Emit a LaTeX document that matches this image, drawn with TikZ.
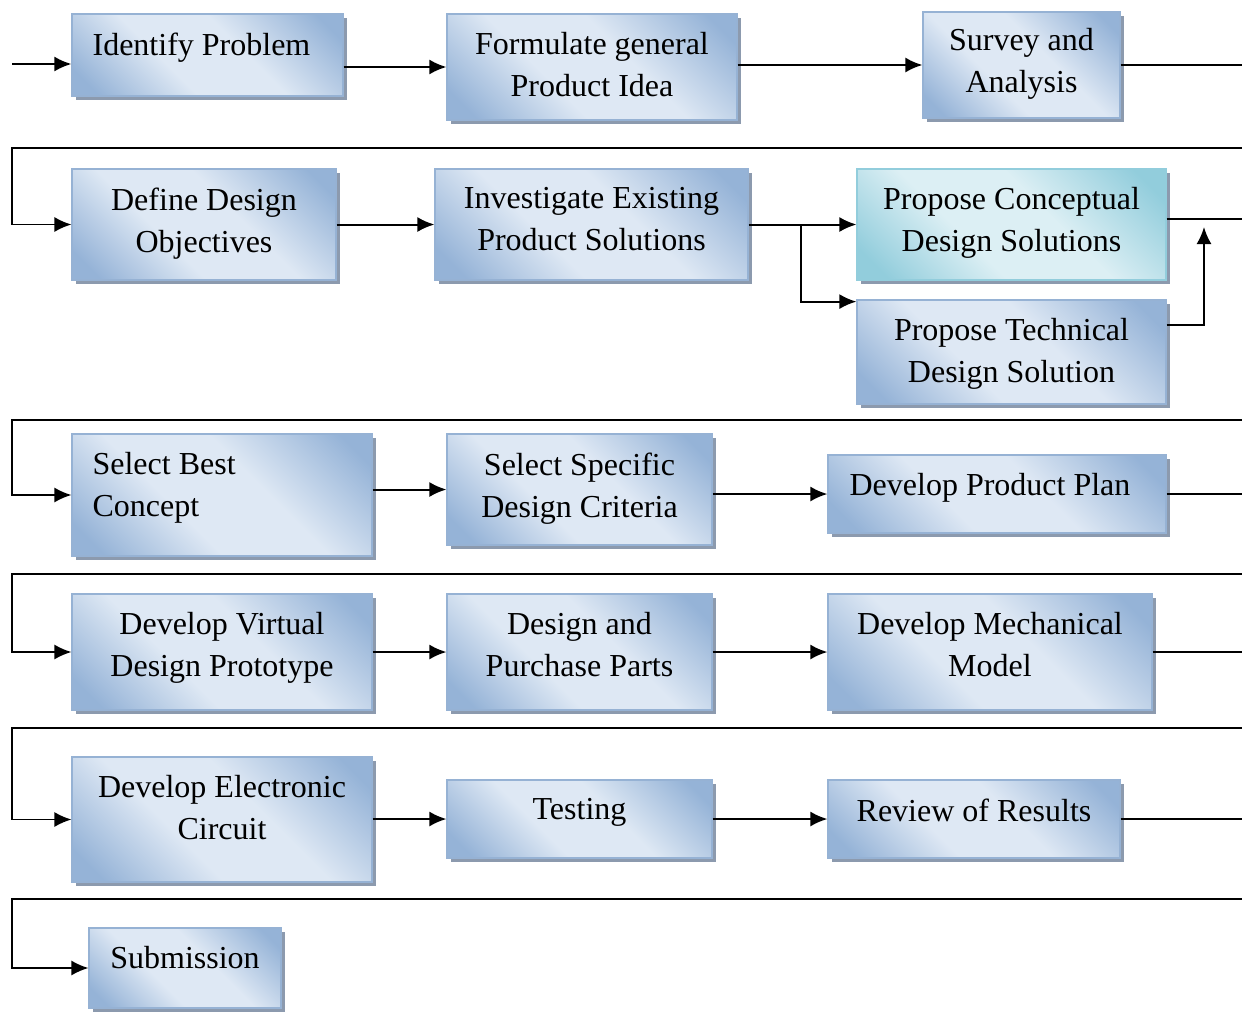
\documentclass[tikz,border=0pt]{standalone}
\usepackage{fontspec}
\setmainfont{Liberation Serif}
\usetikzlibrary{arrows.meta,shadows}
\definecolor{stagedark}{RGB}{149,179,215}
\definecolor{stagelight}{RGB}{222,232,244}
\definecolor{stageline}{RGB}{150,178,212}
\definecolor{cyandark}{RGB}{146,205,220}
\definecolor{cyanlight}{RGB}{220,239,244}
\definecolor{stageshadow}{RGB}{140,154,174}
\pgfdeclarehorizontalshading{stagefill}{100bp}{color(0bp)=(stagedark); color(20bp)=(stagedark); color(40bp)=(stagelight); color(58bp)=(stagelight); color(80bp)=(stagedark); color(100bp)=(stagedark)}
\pgfdeclarehorizontalshading{cyanfill}{100bp}{color(0bp)=(cyandark); color(20bp)=(cyandark); color(40bp)=(cyanlight); color(58bp)=(cyanlight); color(80bp)=(cyandark); color(100bp)=(cyandark)}
\newcommand{\stagefont}{\fontsize{32bp}{42bp}\selectfont}
\tikzset{
  stage/.style={rectangle,inner sep=0pt,draw=stageline,line width=1.2bp,shading=stagefill,shading angle=45,
    drop shadow={shadow xshift=4bp,shadow yshift=-4bp,fill=stageshadow,opacity=1}},
  stagecyan/.style={stage,draw=cyandark,shading=cyanfill},
  stagetext/.style={anchor=north,inner sep=0pt,yshift=-19bp,align=center,font=\stagefont,text=black},
  flow/.style={black,line width=2bp,->},
  wrap/.style={black,line width=1.6bp},
}
\begin{document}
\begin{tikzpicture}[>={Latex[length=17bp,width=15bp]},line join=miter,]
\useasboundingbox (0bp,0bp) rectangle (1242bp,-1012bp);
%% row 1
\node (node_identify) at (207.5bp,-55bp) [stage,minimum width=271bp,minimum height=82bp,label={[stagetext,xshift=-6bp]north:{Identify Problem}}] {};
  \node (node_idea) at (592bp,-67bp) [stage,minimum width=290bp,minimum height=106bp,label={[stagetext]north:{Formulate general\\Product Idea}}] {};
  \node (node_survey) at (1021.5bp,-65bp) [stage,minimum width=197bp,minimum height=106bp,label={[stagetext,yshift=2bp]north:{Survey and\\Analysis}}] {};
%% row 2
\node (node_objectives) at (204bp,-224.5bp) [stage,minimum width=264bp,minimum height=111bp,label={[stagetext]north:{Define Design\\Objectives}}] {};
  \node (node_existing) at (591.5bp,-224.5bp) [stage,minimum width=313bp,minimum height=111bp,label={[stagetext]north:{Investigate Existing\\Product Solutions}}] {};
  \node (node_conceptual) at (1011.5bp,-224.5bp) [stagecyan,minimum width=309bp,minimum height=111bp,label={[stagetext]north:{Propose Conceptual\\Design Solutions}}] {};
  \node (node_technical) at (1011.5bp,-352bp) [stage,minimum width=309bp,minimum height=104bp,label={[stagetext]north:{Propose Technical\\Design Solution}}] {};
%% row 3
\node (node_best) at (222bp,-495bp) [stage,minimum width=300bp,minimum height=122bp,label={[stagetext,anchor=north west,align=left,xshift=21bp]north west:{Select Best\\Concept}}] {};
  \node (node_criteria) at (579.5bp,-489.5bp) [stage,minimum width=265bp,minimum height=111bp,label={[stagetext]north:{Select Specific\\Design Criteria}}] {};
  \node (node_plan) at (997bp,-494bp) [stage,minimum width=338bp,minimum height=78bp,label={[stagetext,xshift=-7bp]north:{Develop Product Plan}}] {};
%% row 4
\node (node_virtual) at (222bp,-652bp) [stage,minimum width=300bp,minimum height=116bp,label={[stagetext]north:{Develop Virtual\\Design Prototype}}] {};
  \node (node_parts) at (579.5bp,-652bp) [stage,minimum width=265bp,minimum height=116bp,label={[stagetext]north:{Design and\\Purchase Parts}}] {};
  \node (node_mechanical) at (990bp,-652bp) [stage,minimum width=324bp,minimum height=116bp,label={[stagetext]north:{Develop Mechanical\\Model}}] {};
%% row 5
\node (node_circuit) at (222bp,-819.5bp) [stage,minimum width=300bp,minimum height=125bp,label={[stagetext]north:{Develop Electronic\\Circuit}}] {};
  \node (node_testing) at (579.5bp,-819bp) [stage,minimum width=265bp,minimum height=78bp,label={[stagetext]north:{Testing}}] {};
  \node (node_review) at (974bp,-819bp) [stage,minimum width=292bp,minimum height=78bp,label={[stagetext]north:{Review of Results}}] {};
%% row 6
\node (node_submission) at (185bp,-968bp) [stage,minimum width=192bp,minimum height=80bp,label={[stagetext]north:{Submission}}] {};
%
\coordinate (start) at (12bp,-64bp);
\coordinate (edge) at (1242bp,0bp);
\coordinate (wrap_1) at (1242bp,-148bp);
\coordinate (wrap_2) at (1242bp,-420bp);
\coordinate (wrap_3) at (1242bp,-574bp);
\coordinate (wrap_4) at (1242bp,-728bp);
\coordinate (wrap_5) at (1242bp,-899bp);
\coordinate (split) at (801bp,-224.5bp);
\coordinate (merge) at (1204bp,-227bp);
%% row 1 arrows
\draw [flow] (start) -- (start -| node_identify.west);
  \draw [flow] (node_identify.east |- node_idea.west) -- (node_idea.west);
  \draw [flow] (node_idea.east |- node_survey.west) -- (node_survey.west);
  \draw [wrap] (node_survey.east) -- (node_survey.east -| edge);
%% row 2 arrows
\draw [wrap,->] (wrap_1) -- (wrap_1 -| start) |- (node_objectives.west);
  \draw [flow] (node_objectives.east |- node_existing.west) -- (node_existing.west);
  \draw [flow] (node_existing.east |- node_conceptual.west) -- (node_conceptual.west);
  \draw [flow] (split) |- (node_technical.162);
  \draw [flow] (node_technical.10) -| (merge);
  \draw [wrap] (node_conceptual.2) -- (node_conceptual.2 -| edge);
%% row 3 arrows
\draw [wrap,->] (wrap_2) -- (wrap_2 -| start) |- (node_best.west);
  \draw [flow] (node_best.east |- node_criteria.west) -- (node_criteria.west);
  \draw [flow] (node_criteria.east |- node_plan.west) -- (node_plan.west);
  \draw [wrap] (node_plan.east) -- (node_plan.east -| edge);
%% row 4 arrows
\draw [wrap,->] (wrap_3) -- (wrap_3 -| start) |- (node_virtual.west);
  \draw [flow] (node_virtual.east |- node_parts.west) -- (node_parts.west);
  \draw [flow] (node_parts.east |- node_mechanical.west) -- (node_mechanical.west);
  \draw [wrap] (node_mechanical.east) -- (node_mechanical.east -| edge);
%% row 5 arrows
\draw [wrap,->] (wrap_4) -- (wrap_4 -| start) |- (node_circuit.west);
  \draw [flow] (node_circuit.east |- node_testing.west) -- (node_testing.west);
  \draw [flow] (node_testing.east |- node_review.west) -- (node_review.west);
  \draw [wrap] (node_review.east) -- (node_review.east -| edge);
%% row 6 arrow
\draw [wrap,->] (wrap_5) -- (wrap_5 -| start) |- (node_submission.west);
%
\end{tikzpicture}
\end{document}
